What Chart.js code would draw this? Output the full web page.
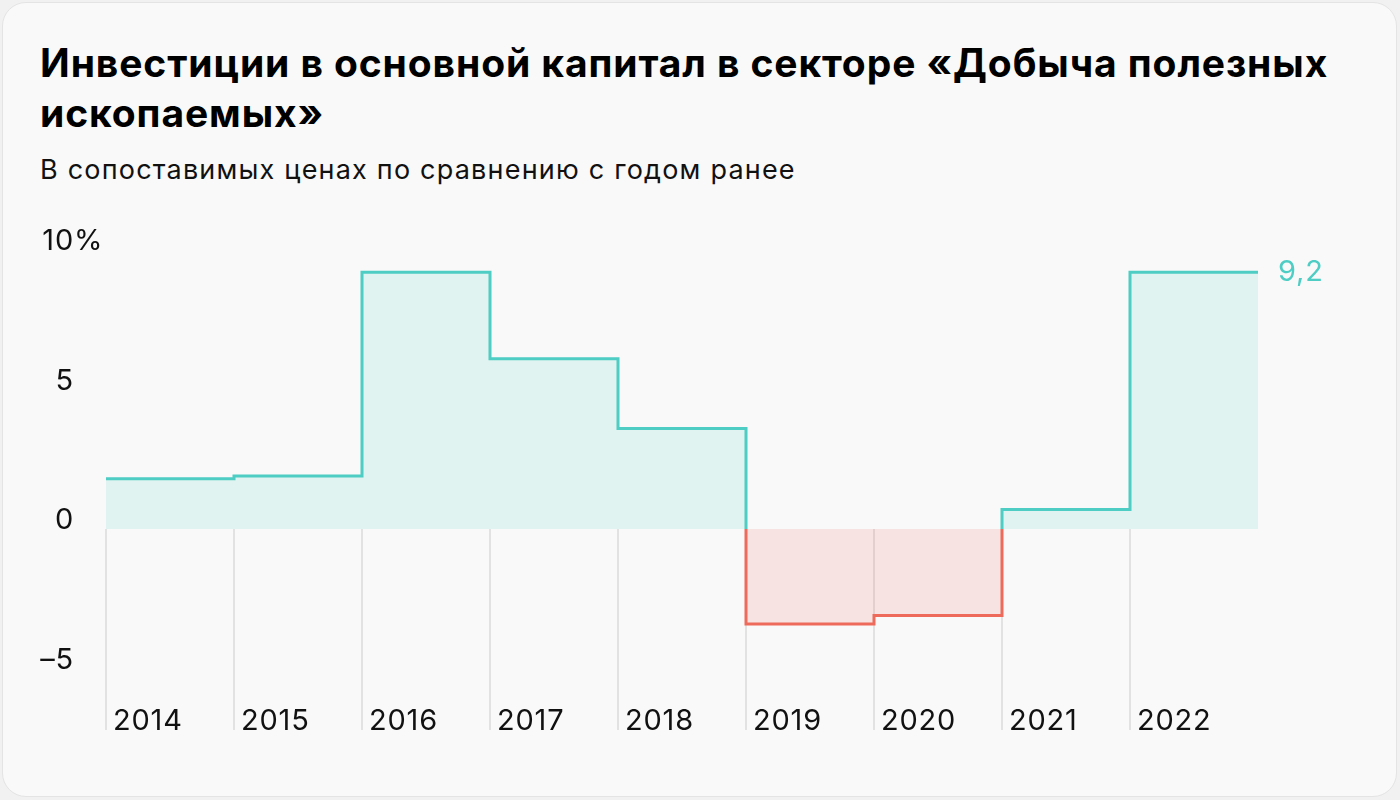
<!DOCTYPE html>
<html lang="ru">
<head>
<meta charset="utf-8">
<script src="https://cdn.jsdelivr.net/npm/chart.js@4"></script>
<style>
  html, body { margin: 0; padding: 0; }
  body { width: 1400px; height: 800px; background: #f1f1f1; position: relative; overflow: hidden; font-family: 'Inter', 'Roboto', sans-serif; }
  .card { position: absolute; left: 2px; top: 2px; width: 1393px; height: 793px; background: #f9f9f9; border: 1px solid #e4e4e4; border-radius: 24px; }
  h1 { position: absolute; left: 40px; top: 38px; margin: 0; font-size: 39px; line-height: 50px; font-weight: 700; letter-spacing: 0.9px; color: #000; width: 1340px; }
  .sub { position: absolute; left: 40px; top: 154px; margin: 0; font-size: 27px; line-height: 32px; letter-spacing: 1.2px; color: #111; }
  canvas { position: absolute; left: 0; top: 0; }
</style>
</head>
<body>
<div class="card"></div>
<h1>Инвестиции в основной капитал в секторе «Добыча полезных ископаемых»</h1>
<p class="sub">В сопоставимых ценах по сравнению с годом ранее</p>
<canvas id="stepChart" width="1400" height="800"></canvas>
<script>
  // Данные
  const years = ['2014', '2015', '2016', '2017', '2018', '2019', '2020', '2021', '2022'];
  const growth = [1.8, 1.9, 9.2, 6.1, 3.6, -3.4, -3.1, 0.7, 9.2];
  const yTicks = [10, 5, 0, -5];
  const lastLabel = '9,2';

  const teal = 'rgb(78, 205, 196)';
  const red = 'rgb(238, 107, 91)';

  // Ступенчатая линия: каждый год занимает отрезок [i, i+1]
  const stepPoints = [];
  growth.forEach((v, i) => {
    if (i > 0 && Math.sign(v) !== Math.sign(growth[i - 1])) stepPoints.push({ x: i, y: 0 });
    stepPoints.push({ x: i, y: v }, { x: i + 1, y: v });
  });

  const labelsPlugin = {
    id: 'labels',
    beforeDatasetsDraw(chart) {
      const { ctx, chartArea, scales: { x, y } } = chart;
      ctx.save();
      ctx.strokeStyle = '#e2e2e2';
      ctx.lineWidth = 2;
      years.forEach((_, i) => {
        const px = Math.round(x.getPixelForValue(i));
        ctx.beginPath();
        ctx.moveTo(px, y.getPixelForValue(0));
        ctx.lineTo(px, chartArea.bottom);
        ctx.stroke();
      });
      ctx.restore();
    },
    afterDatasetsDraw(chart) {
      const { ctx, chartArea, scales: { x, y } } = chart;
      ctx.save();
      ctx.font = "29px 'Inter', 'Roboto', sans-serif";
      ctx.letterSpacing = '0.8px';
      ctx.fillStyle = '#111';
      ctx.textBaseline = 'alphabetic';
      yTicks.forEach(v => {
        const py = y.getPixelForValue(v);
        ctx.textAlign = 'right';
        ctx.fillText(v < 0 ? '–' + Math.abs(v) : String(v), 74, py);
        if (v === yTicks[0]) {
          ctx.textAlign = 'left';
          ctx.fillText('%', 74, py);
        }
      });
      ctx.textAlign = 'left';
      years.forEach((yr, i) => {
        ctx.fillText(yr, x.getPixelForValue(i) + 7, chartArea.bottom);
      });
      ctx.fillStyle = teal;
      ctx.textBaseline = 'middle';
      ctx.fillText(lastLabel, x.getPixelForValue(years.length) + 20, y.getPixelForValue(growth[growth.length - 1]));
      ctx.restore();
    }
  };

  new Chart(document.getElementById('stepChart'), {
    type: 'line',
    data: {
      datasets: [{
        data: stepPoints,
        borderWidth: 3,
        borderJoinStyle: 'miter',
        borderCapStyle: 'butt',
        pointRadius: 0,
        tension: 0,
        fill: { target: 'origin', above: 'rgba(78, 205, 196, 0.15)', below: 'rgba(238, 107, 91, 0.15)' },
        segment: {
          borderColor: c => (c.p0.parsed.y + c.p1.parsed.y) < 0 ? red : teal
        }
      }]
    },
    options: {
      responsive: false,
      animation: false,
      layout: { padding: { left: 106, right: 142, top: 250, bottom: 70 } },
      plugins: { legend: { display: false }, tooltip: { enabled: false } },
      scales: {
        x: { type: 'linear', min: 0, max: 9, display: false },
        y: { min: -7.2, max: 10, display: false }
      }
    },
    plugins: [labelsPlugin]
  });
</script>
</body>
</html>
